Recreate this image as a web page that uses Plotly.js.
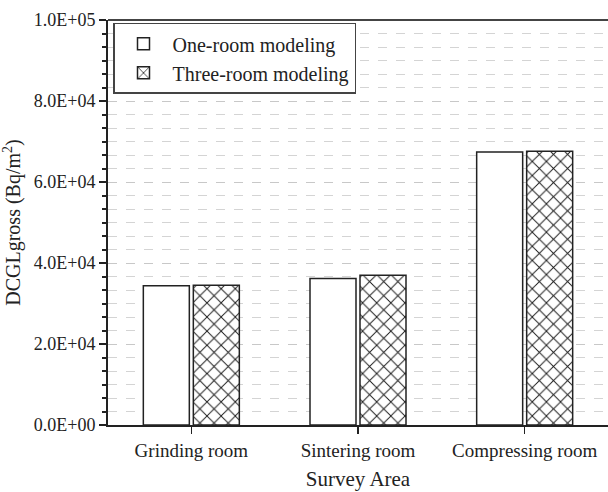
<!DOCTYPE html>
<html>
<head>
<meta charset="utf-8">
<script src="https://cdn.plot.ly/plotly-3.0.1.min.js"></script>
<style>html,body{margin:0;padding:0;background:#fff;}#chart{width:608px;height:492px;}</style>
</head>
<body>
<div id="chart"></div>
<script>
const categories = ["Grinding room", "Sintering room", "Compressing room"];
const oneRoom = [34400, 36200, 67400];
const threeRoom = [34500, 37000, 67600];
const seriesNames = ["One-room modeling", "Three-room modeling"];
const yTickVals = [0, 20000, 40000, 60000, 80000, 100000];
const yTickText = ["0.0E+00", "2.0E+04", "4.0E+04", "6.0E+04", "8.0E+04", "1.0E+05"];

const font = "Liberation Serif";
const traces = [
  {
    type: "bar", name: seriesNames[0], x: categories, y: oneRoom,
    marker: {color: "#ffffff", line: {color: "#222", width: 1.5}}
  },
  {
    type: "bar", name: seriesNames[1], x: categories, y: threeRoom,
    marker: {color: "#ffffff", line: {color: "#222", width: 1.5},
      pattern: {shape: "x", fgcolor: "#1a1a1a", bgcolor: "#ffffff", size: 10, solidity: 0.18}}
  }
];
const layout = {
  width: 608, height: 492,
  margin: {l: 108, r: 0, t: 20, b: 67},
  paper_bgcolor: "#fff", plot_bgcolor: "#fff",
  barmode: "group", bargap: 0.4, bargroupgap: 0.08,
  font: {family: font, size: 18, color: "#222"},
  showlegend: true,
  legend: {x: 0.01, y: 0.993, xanchor: "left", yanchor: "top",
    bordercolor: "#444", borderwidth: 1.5, bgcolor: "#fff", itemwidth: 48,
    font: {family: font, size: 20, color: "#222"}, tracegroupgap: 0},
  xaxis: {
    range: [-0.5, 2.5], showline: true, linecolor: "#222", linewidth: 2,
    ticks: "outside", ticklen: 7, tickwidth: 1.5, tickcolor: "#222",
    showgrid: false, zeroline: false,
    tickfont: {family: font, size: 19, color: "#222"},
    title: {text: "Survey Area", font: {family: font, size: 21, color: "#222"}, standoff: 12}
  },
  yaxis: {
    range: [0, 100000], showline: true, linecolor: "#222", linewidth: 2, mirror: false,
    tickmode: "array", tickvals: yTickVals, ticktext: yTickText,
    ticks: "outside", ticklen: 7, tickwidth: 2, tickcolor: "#222",
    showgrid: true, gridcolor: "#c8c8c8", griddash: "dash", gridwidth: 1,
    zeroline: false,
    minor: {dtick: 20000/6, tick0: 0, ticks: "outside", ticklen: 4, tickwidth: 2, tickcolor: "#222",
      showgrid: true, gridcolor: "#d4d4d4", griddash: "dash", gridwidth: 1},
    tickfont: {family: font, size: 18, color: "#222"},
    title: {text: "DCGLgross (Bq/m<sup>2</sup>)", font: {family: font, size: 20, color: "#222"}, standoff: 8}
  },
  shapes: [
    {type: "line", xref: "paper", yref: "paper", x0: 0, x1: 1, y0: 1, y1: 1, line: {color: "#444", width: 2}}
  ]
};
Plotly.newPlot("chart", traces, layout, {displayModeBar: false, staticPlot: true});
</script>
</body>
</html>
